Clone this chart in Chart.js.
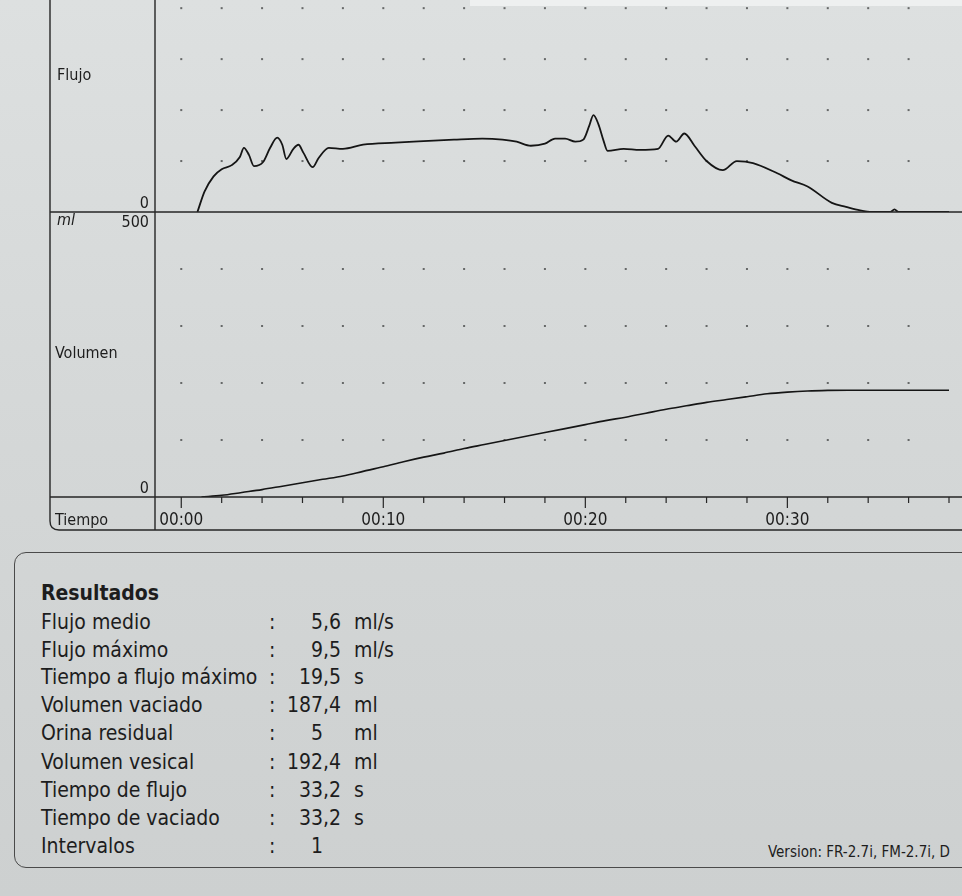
<!DOCTYPE html>
<html>
<head>
<meta charset="utf-8">
<script src="https://cdn.jsdelivr.net/npm/chart.js@4/dist/chart.umd.min.js"></script>
<style>
html,body{margin:0;padding:0;width:962px;height:896px;overflow:hidden;}
body{position:relative;background:linear-gradient(180deg,#dde0e0 0%,#d4d7d7 50%,#cdd0d0 100%);
  font-family:"DejaVu Sans Condensed","DejaVu Sans",Verdana,sans-serif;font-stretch:condensed;color:#1d1d1d;}
#topstrip{position:absolute;left:470px;top:0;width:492px;height:6px;background:#eef0f0;}
#wrap{position:absolute;left:0;top:0;width:962px;height:540px;}
.lbl{position:absolute;font-size:16px;line-height:18px;white-space:nowrap;}
#resbox{position:absolute;left:14px;top:552px;width:1000px;height:316px;border:1.4px solid #4a4a4a;border-radius:12px;box-sizing:border-box;}
.row{position:absolute;left:0;width:962px;height:28px;font-size:21px;line-height:28px;white-space:nowrap;}
.row span{position:absolute;top:0;}
#version{position:absolute;left:768px;top:842px;font-size:15px;line-height:20px;white-space:nowrap;}
</style>
</head>
<body>
<div id="topstrip"></div>
<div id="wrap"><canvas id="c" width="962" height="540"></canvas></div>
<div class="lbl" style="left:57px;top:66px;">Flujo</div>
<div class="lbl" style="left:57px;top:211px;font-style:italic;">ml</div>
<div class="lbl" style="left:55px;top:344px;">Volumen</div>
<div class="lbl" style="left:55px;top:511px;">Tiempo</div>
<div id="resbox"></div>
<div id="results"></div>
<div id="version">Version: FR-2.7i, FM-2.7i, D</div>
<script>
// ---- Flow curve (s, ml/s) ----
const flowTime = [0.8,1.15,1.6,2.0,2.5,2.9,3.1,3.35,3.6,4.05,4.4,4.75,5.0,5.2,5.55,5.8,6.05,6.5,6.8,7.3,8.0,9.0,10.6,11.5,13.5,14.9,15.9,16.6,17.3,18.0,18.5,19.0,19.5,19.9,20.2,20.4,20.65,20.9,21.1,21.9,22.7,23.6,24.1,24.5,24.9,25.4,26.0,26.8,27.5,28.3,29.5,30.2,31.0,32.2,32.9,33.6,34.2,35.1,35.3,35.5,38.0];
const flowRate = [0,2.0,3.5,4.2,4.6,5.4,6.3,5.6,4.5,4.9,6.3,7.3,6.6,5.2,6.2,6.6,5.8,4.4,5.3,6.3,6.2,6.6,6.8,6.9,7.1,7.2,7.1,6.9,6.5,6.7,7.2,7.2,6.9,7.1,8.5,9.5,8.6,7.0,6.0,6.2,6.1,6.2,7.5,6.9,7.7,6.5,5.0,4.1,5.0,4.8,3.8,3.1,2.5,0.9,0.5,0.15,0,0,0.25,0,0];
// ---- Volume curve (s, ml) ----
const volTime = [1.0,2,3,4,5,6,7,8,9,10,11,12,13,14,15,16,17,18,19,20,21,22,23,24,25,26,27,28,29,30,31,32,33,34,38.0];
const volValue = [0,3,8,13,19,25,31,37,45,53,62,70,77,85,92,99,106,113,120,127,134,140,147,154,160,166,171,176,181,184,186,187,187.4,187.4,187.4];
// ---- axis labels ----
const timeLabelSeconds = [0,10,20,30];
const timeLabels = ['00:00','00:10','00:20','00:30'];
const flowAxisLabels = ['0'];
const volAxisLabels = ['500','0'];
const flowDotValues = [5,10,15,20];
const volDotValues = [100,200,300,400];
// ---- results ----
const resTitle = 'Resultados';
const resLabels = ['Flujo medio','Flujo máximo','Tiempo a flujo máximo','Volumen vaciado','Orina residual','Volumen vesical','Tiempo de flujo','Tiempo de vaciado','Intervalos'];
const resValues = ['5,6','9,5','19,5','187,4','5','192,4','33,2','33,2','1'];
const resUnits = ['ml/s','ml/s','s','ml','ml','ml','s','s',''];

const FONT = '"DejaVu Sans Condensed","DejaVu Sans",Verdana,sans-serif';
const INK = '#1d1d1d';

// results block
(function(){
  const host = document.getElementById('results');
  const tops = [579,608,636,663,691,719,748,776,804,832];
  const t = document.createElement('div');
  t.className='row'; t.style.top=tops[0]+'px';
  const s = document.createElement('span'); s.style.left='41px'; s.style.fontWeight='bold'; s.textContent=resTitle;
  t.appendChild(s); host.appendChild(t);
  resLabels.forEach((lab,i)=>{
    const r = document.createElement('div'); r.className='row'; r.style.top=tops[i+1]+'px';
    const parts = resValues[i].split(',');
    const a = document.createElement('span'); a.style.left='41px'; a.textContent=lab;
    const c = document.createElement('span'); c.style.left='269px'; c.textContent=':';
    const ip = document.createElement('span'); ip.style.left='0px'; ip.style.width='323px'; ip.style.textAlign='right'; ip.textContent=parts[0];
    const dp = document.createElement('span'); dp.style.left='323px'; dp.textContent=parts.length>1?','+parts[1]:'';
    const u = document.createElement('span'); u.style.left='354px'; u.textContent=resUnits[i];
    [a,c,ip,dp,u].forEach(e=>r.appendChild(e));
    host.appendChild(r);
  });
})();

const framePlugin = {
  id:'frame',
  beforeDatasetsDraw(chart){
    const ctx = chart.ctx, xs = chart.scales.x, yf = chart.scales.yFlow, yv = chart.scales.yVol;
    ctx.save();
    ctx.fillStyle = '#666868';
    xs.ticks.forEach(tk=>{
      const px = xs.getPixelForValue(tk.value);
      if (px < chart.chartArea.left+2 || px > chart.chartArea.right-2) return;
      flowDotValues.forEach(v=>{ const py = yf.getPixelForValue(v); if(py>1) ctx.fillRect(px-1,py-1,2,2); });
      volDotValues.forEach(v=>{ const py = yv.getPixelForValue(v); ctx.fillRect(px-1,py-1,2,2); });
    });
    ctx.restore();
  },
  afterDraw(chart){
    const ctx = chart.ctx, ca = chart.chartArea, xs = chart.scales.x, yf = chart.scales.yFlow, yv = chart.scales.yVol;
    const W = chart.width;
    const yDiv = yf.getPixelForValue(0);
    const yBot = yv.getPixelForValue(0);
    const yEnd = 530, xL = 50, r = 9;
    ctx.save();
    ctx.strokeStyle = '#262626';
    ctx.lineWidth = 1.4;
    ctx.beginPath();
    ctx.moveTo(xL,0); ctx.lineTo(xL,yEnd-r); ctx.quadraticCurveTo(xL,yEnd,xL+r,yEnd); ctx.lineTo(W,yEnd);
    ctx.moveTo(ca.left,0); ctx.lineTo(ca.left,yEnd);
    ctx.moveTo(xL,yDiv); ctx.lineTo(W,yDiv);
    ctx.moveTo(xL,yBot); ctx.lineTo(W,yBot);
    ctx.stroke();
    // time ticks
    ctx.lineWidth = 1.2;
    ctx.beginPath();
    xs.ticks.forEach(tk=>{
      const px = xs.getPixelForValue(tk.value);
      if (px < ca.left+2 || px > ca.right) return;
      const len = (timeLabelSeconds.indexOf(tk.value) >= 0) ? 11 : 6;
      ctx.moveTo(px,yBot); ctx.lineTo(px,yBot+len);
    });
    ctx.stroke();
    // y labels
    ctx.fillStyle = INK;
    ctx.font = '16px ' + FONT;
    ctx.textAlign = 'right';
    ctx.textBaseline = 'alphabetic';
    ctx.fillText(flowAxisLabels[0], ca.left-6, yDiv-4);
    ctx.textBaseline = 'top';
    ctx.fillText(volAxisLabels[0], ca.left-6, yv.getPixelForValue(500)+3);
    ctx.textBaseline = 'alphabetic';
    ctx.fillText(volAxisLabels[1], ca.left-6, yBot-4);
    ctx.restore();
  }
};

new Chart(document.getElementById('c').getContext('2d'), {
  type:'line',
  data:{ datasets:[
    { label:'Flujo', data: flowTime.map((t,i)=>({x:t,y:flowRate[i]})), yAxisID:'yFlow', xAxisID:'x',
      borderColor:'#151515', borderWidth:1.8, pointRadius:0, cubicInterpolationMode:'monotone', fill:false },
    { label:'Volumen', data: volTime.map((t,i)=>({x:t,y:volValue[i]})), yAxisID:'yVol', xAxisID:'x',
      borderColor:'#151515', borderWidth:1.6, pointRadius:0, cubicInterpolationMode:'monotone', fill:false }
  ]},
  options:{
    responsive:false, animation:false,
    layout:{padding:0},
    plugins:{legend:{display:false}, tooltip:{enabled:false}},
    scales:{
      x:{ type:'linear', position:'bottom', min:-1.3, max:38.0,
          border:{display:false}, grid:{display:false, drawTicks:false},
          ticks:{ stepSize:2, includeBounds:false, autoSkip:false, maxRotation:0, padding:13, color:INK,
                  font:{family:FONT, size:17},
                  callback:(v)=>{ const k = timeLabelSeconds.indexOf(v); return k>=0 ? timeLabels[k] : ''; } },
          afterFit(s){ s.height = 43; } },
      yVol:{ type:'linear', position:'left', stack:'panels', stackWeight:285, min:0, max:500,
          border:{display:false}, grid:{display:false}, ticks:{display:false},
          afterFit(s){ s.width = 155; } },
      yFlow:{ type:'linear', position:'left', stack:'panels', stackWeight:212, min:0, max:20.8,
          border:{display:false}, grid:{display:false}, ticks:{display:false},
          afterFit(s){ s.width = 155; } }
    }
  },
  plugins:[framePlugin]
});
</script>
</body>
</html>
